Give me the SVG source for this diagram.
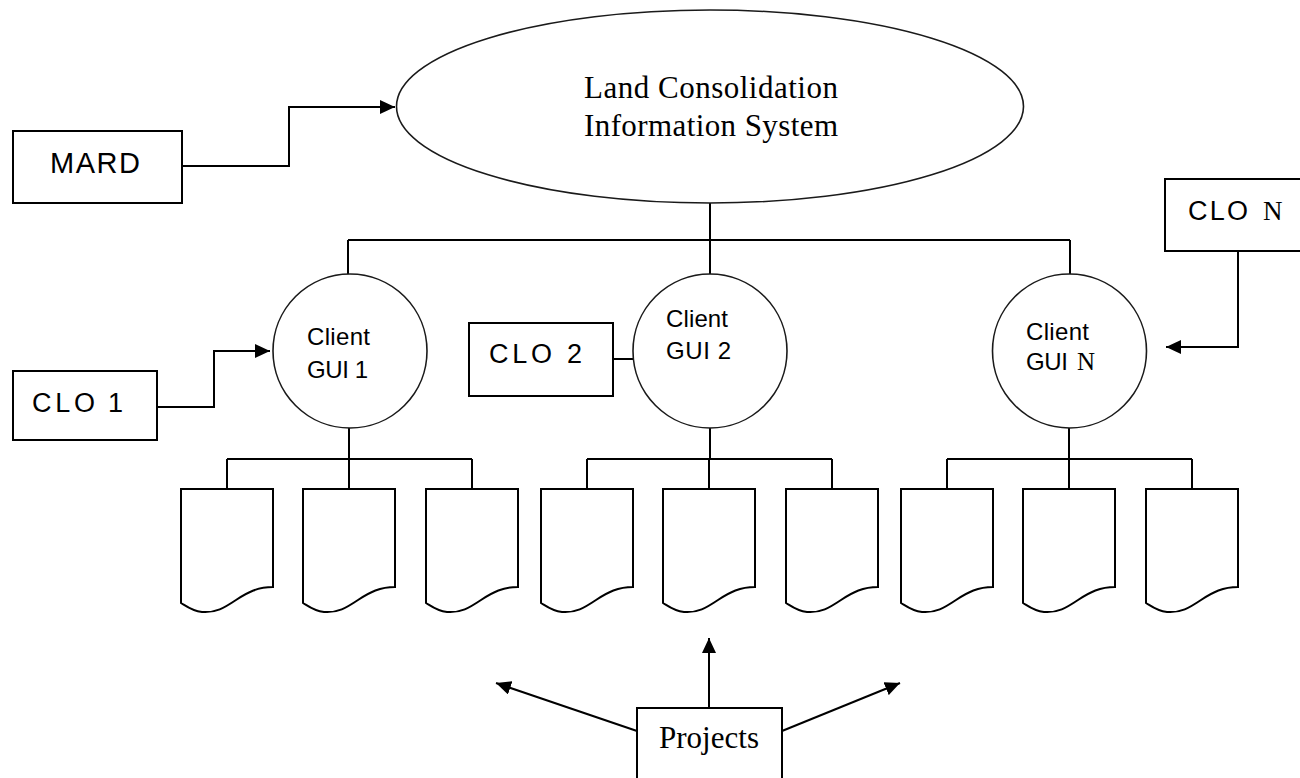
<svg xmlns="http://www.w3.org/2000/svg" xmlns:xlink="http://www.w3.org/1999/xlink" width="1300" height="778" viewBox="0 0 1300 778">
  <style>
    .shape { fill: #ffffff; stroke: #000000; stroke-width: 2; }
    .round { fill: #ffffff; stroke: #1a1a1a; stroke-width: 1.6; }
    .wire { fill: none; stroke: #000000; stroke-width: 2; }
    .arrow { fill: none; stroke: #000000; stroke-width: 2; marker-end: url(#head); }
    .sans { font-family: "Liberation Sans", Arial, sans-serif; fill: #000000; }
    .serif { font-family: "Liberation Serif", "Times New Roman", serif; fill: #000000; }
  </style>
  <defs>
    <marker id="head" markerUnits="userSpaceOnUse" markerWidth="16" markerHeight="14" refX="15" refY="7" orient="auto">
      <path d="M0,0 L15,7 L0,14 Z" fill="#000000"/>
    </marker>
    <!-- flowchart document symbol, 92 wide, wavy bottom edge -->
    <path id="doc" d="M0,0 H92 V98 C77,98 67,103 55,111 C43,119 35,124 21,123 C11,122 5,117 0,114 Z"/>
  </defs>

  <rect width="1300" height="778" fill="#ffffff"/>

  <!-- connectors -->
  <g id="connectors">
    <path class="arrow" d="M182,166 H289 V107 H395"/>
    <path class="wire" d="M710,203 V240 M348,240 H1070 M348,240 V274 M710,240 V274 M1070,240 V274"/>
    <path class="arrow" d="M157,407 H214 V351 H270"/>
    <path class="wire" d="M613,359 H633"/>
    <path class="arrow" d="M1238,251 V347 H1166"/>
    <!-- client to document buses -->
    <path class="wire" d="M349,428 V459 M227,459 H472 M227,459 V489 M349,459 V489 M472,459 V489"/>
    <path class="wire" d="M710,428 V459 M587,459 H832 M587,459 V489 M709,459 V489 M832,459 V489"/>
    <path class="wire" d="M1069,428 V459 M947,459 H1192 M947,459 V489 M1069,459 V489 M1192,459 V489"/>
    <!-- project pointers -->
    <path class="arrow" d="M709,708 V638"/>
    <path class="arrow" d="M637,731 L496,683"/>
    <path class="arrow" d="M782,731 L900,683"/>
  </g>

  <g id="lcis">
    <ellipse class="round" cx="710" cy="106.5" rx="313.5" ry="96.5"/>
    <text class="serif" x="584" y="98" font-size="31" textLength="254" lengthAdjust="spacing">Land Consolidation</text>
    <text class="serif" x="584" y="136" font-size="31" textLength="254" lengthAdjust="spacing">Information System</text>
  </g>

  <g id="mard">
    <rect class="shape" x="13" y="131" width="169" height="72"/>
    <text class="sans" x="50" y="173" font-size="29" textLength="90" lengthAdjust="spacing">MARD</text>
  </g>

  <g id="clo-n">
    <rect class="shape" x="1165" y="179" width="145" height="72"/>
    <text class="sans" x="1188" y="220" font-size="27" textLength="60" lengthAdjust="spacing">CLO</text>
    <text class="serif" x="1263" y="220" font-size="27">N</text>
  </g>

  <g id="clo-1">
    <rect class="shape" x="13" y="371" width="144" height="69"/>
    <text class="sans" x="32" y="412" font-size="27" textLength="63" lengthAdjust="spacing">CLO</text>
    <text class="sans" x="108" y="412" font-size="27">1</text>
  </g>

  <g id="clo-2">
    <rect class="shape" x="469" y="323" width="144" height="73"/>
    <text class="sans" x="489" y="363" font-size="27" textLength="63" lengthAdjust="spacing">CLO</text>
    <text class="sans" x="567" y="363" font-size="27">2</text>
  </g>

  <g id="client-gui-1">
    <circle class="round" cx="350" cy="351" r="77"/>
    <text class="sans" x="307" y="345" font-size="24" textLength="63" lengthAdjust="spacing">Client</text>
    <text class="sans" x="307" y="378" font-size="24" textLength="61" lengthAdjust="spacing">GUI 1</text>
  </g>

  <g id="client-gui-2">
    <circle class="round" cx="710" cy="351" r="77"/>
    <text class="sans" x="666" y="327" font-size="24" textLength="62" lengthAdjust="spacing">Client</text>
    <text class="sans" x="666" y="359" font-size="24" textLength="65" lengthAdjust="spacing">GUI 2</text>
  </g>

  <g id="client-gui-n">
    <circle class="round" cx="1069.5" cy="351" r="77"/>
    <text class="sans" x="1026" y="340" font-size="24" textLength="63" lengthAdjust="spacing">Client</text>
    <text class="sans" x="1026" y="370" font-size="24" textLength="42" lengthAdjust="spacing">GUI</text>
    <text class="serif" x="1077" y="370" font-size="25">N</text>
  </g>

  <g id="doc-1-1"><use class="shape" xlink:href="#doc" x="181" y="489"/></g>
  <g id="doc-1-2"><use class="shape" xlink:href="#doc" x="303" y="489"/></g>
  <g id="doc-1-3"><use class="shape" xlink:href="#doc" x="426" y="489"/></g>
  <g id="doc-2-1"><use class="shape" xlink:href="#doc" x="541" y="489"/></g>
  <g id="doc-2-2"><use class="shape" xlink:href="#doc" x="663" y="489"/></g>
  <g id="doc-2-3"><use class="shape" xlink:href="#doc" x="786" y="489"/></g>
  <g id="doc-n-1"><use class="shape" xlink:href="#doc" x="901" y="489"/></g>
  <g id="doc-n-2"><use class="shape" xlink:href="#doc" x="1023" y="489"/></g>
  <g id="doc-n-3"><use class="shape" xlink:href="#doc" x="1146" y="489"/></g>

  <g id="projects">
    <rect class="shape" x="637" y="708" width="145" height="80"/>
    <text class="serif" x="659" y="748" font-size="31" textLength="100" lengthAdjust="spacing">Projects</text>
  </g>
</svg>
